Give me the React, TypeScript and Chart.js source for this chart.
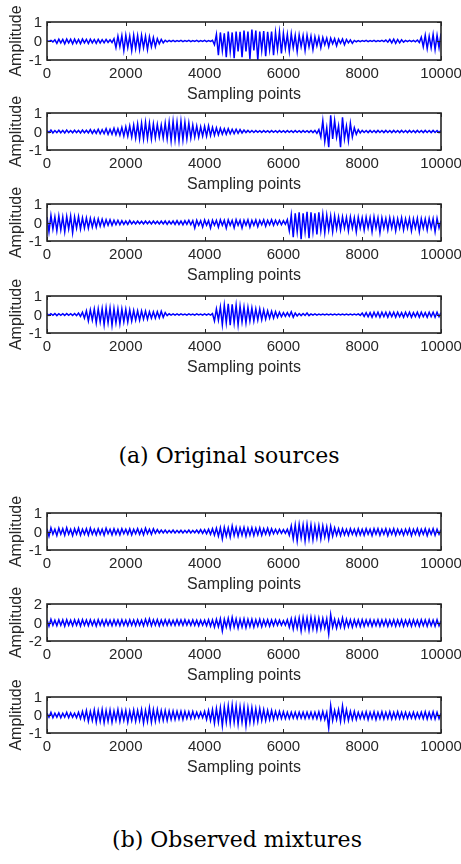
import React, { useEffect, useRef } from "react";
import { Chart, registerables } from "chart.js";

Chart.register(...registerables);

// ---------- text ----------
const X_LABEL = "Sampling points";
const Y_LABEL = "Amplitude";
const CAPTION_A = "(a) Original sources";
const CAPTION_B = "(b) Observed mixtures";
const X_TICKS = [0, 2000, 4000, 6000, 8000, 10000];
const Y_TICKS_1 = [-1, 0, 1];
const Y_TICKS_2 = [-2, 0, 2];

// ---------- data ----------
// positive peaks at samples 0,100,...,10000 ; negative peaks at samples 50,150,...,9950
const s1Up = [
  0.02,0.03,0.06,0.1,0.08,0.1,0.09,0.1,0.08,0.1,
  0.09,0.1,0.08,0.09,0.07,0.08,0.06,0.12,0.25,0.28,
  0.3,0.25,0.3,0.28,0.3,0.25,0.22,0.18,0.12,0.08,
  0.04,0.03,0.03,0.02,0.03,0.02,0.03,0.02,0.03,0.02,
  0.03,0.02,0.04,0.35,0.45,0.4,0.5,0.45,0.5,0.48,
  0.55,0.5,0.6,0.55,0.5,0.52,0.48,0.5,0.45,0.48,
  0.4,0.35,0.38,0.3,0.32,0.28,0.3,0.25,0.22,0.2,
  0.18,0.15,0.15,0.12,0.1,0.1,0.08,0.06,0.03,0.02,
  0.02,0.03,0.02,0.03,0.02,0.03,0.05,0.08,0.1,0.08,
  0.06,0.03,0.03,0.03,0.05,0.2,0.3,0.25,0.35,0.3,
  0.4];
const s1Lo = [
  -0.02,-0.05,-0.12,-0.1,-0.15,-0.1,-0.15,-0.12,-0.14,-0.1,
  -0.13,-0.1,-0.12,-0.1,-0.1,-0.08,-0.08,-0.35,-0.3,-0.5,
  -0.35,-0.5,-0.4,-0.45,-0.35,-0.45,-0.3,-0.3,-0.15,-0.1,
  -0.04,-0.03,-0.03,-0.02,-0.03,-0.02,-0.03,-0.02,-0.03,-0.02,
  -0.03,-0.02,-0.2,-0.75,-0.5,-0.85,-0.55,-0.9,-0.55,-0.85,
  -0.55,-0.95,-0.5,-1.0,-0.5,-0.8,-0.45,-0.75,-0.45,-0.65,
  -0.4,-0.55,-0.35,-0.55,-0.3,-0.5,-0.3,-0.45,-0.25,-0.35,
  -0.2,-0.3,-0.15,-0.25,-0.12,-0.2,-0.1,-0.12,-0.04,-0.03,
  -0.02,-0.03,-0.02,-0.03,-0.02,-0.03,-0.06,-0.1,-0.12,-0.1,
  -0.06,-0.03,-0.03,-0.04,-0.08,-0.3,-0.4,-0.35,-0.45,-0.35];

const s2Up = [
  0.05,0.08,0.05,0.07,0.06,0.08,0.05,0.07,0.06,0.08,
  0.07,0.1,0.08,0.12,0.1,0.15,0.12,0.18,0.15,0.22,
  0.25,0.3,0.35,0.4,0.45,0.5,0.45,0.4,0.38,0.35,
  0.45,0.5,0.55,0.5,0.55,0.5,0.45,0.35,0.3,0.25,
  0.28,0.3,0.22,0.2,0.18,0.15,0.15,0.12,0.12,0.1,
  0.08,0.06,0.05,0.05,0.04,0.05,0.04,0.05,0.04,0.05,
  0.04,0.05,0.04,0.05,0.04,0.05,0.04,0.05,0.06,0.1,
  0.58,0.2,0.87,0.6,0.3,0.77,0.3,0.45,0.2,0.1,
  0.06,0.05,0.06,0.05,0.06,0.05,0.06,0.05,0.06,0.05,
  0.06,0.05,0.06,0.05,0.06,0.05,0.06,0.05,0.06,0.05,
  0.05];
const s2Lo = [
  -0.06,-0.08,-0.06,-0.07,-0.08,-0.06,-0.07,-0.06,-0.08,-0.07,
  -0.08,-0.1,-0.1,-0.12,-0.12,-0.15,-0.15,-0.18,-0.2,-0.25,
  -0.25,-0.3,-0.35,-0.4,-0.4,-0.38,-0.4,-0.35,-0.3,-0.35,
  -0.4,-0.5,-0.45,-0.5,-0.45,-0.4,-0.35,-0.3,-0.3,-0.25,
  -0.25,-0.22,-0.2,-0.18,-0.15,-0.15,-0.12,-0.12,-0.1,-0.08,
  -0.06,-0.05,-0.05,-0.04,-0.05,-0.04,-0.05,-0.04,-0.05,-0.04,
  -0.05,-0.04,-0.05,-0.04,-0.05,-0.04,-0.05,-0.06,-0.1,-0.3,
  -0.55,-0.85,-0.4,-0.3,-0.85,-0.4,-0.5,-0.3,-0.15,-0.08,
  -0.05,-0.06,-0.05,-0.06,-0.05,-0.06,-0.05,-0.06,-0.05,-0.06,
  -0.05,-0.06,-0.05,-0.06,-0.05,-0.06,-0.05,-0.06,-0.05,-0.06];

const s3Up = [
  0.3,0.38,0.3,0.35,0.3,0.32,0.35,0.3,0.32,0.25,
  0.25,0.22,0.2,0.2,0.18,0.15,0.15,0.12,0.12,0.1,
  0.08,0.1,0.07,0.08,0.07,0.08,0.07,0.08,0.07,0.08,
  0.08,0.07,0.08,0.1,0.08,0.1,0.12,0.1,0.12,0.1,
  0.14,0.1,0.12,0.12,0.15,0.12,0.14,0.12,0.15,0.12,
  0.12,0.15,0.12,0.14,0.12,0.15,0.12,0.15,0.12,0.12,
  0.1,0.15,0.4,0.5,0.55,0.5,0.58,0.55,0.5,0.55,
  0.45,0.4,0.35,0.35,0.3,0.3,0.28,0.3,0.25,0.28,
  0.25,0.28,0.25,0.3,0.25,0.25,0.22,0.25,0.22,0.2,
  0.25,0.2,0.22,0.2,0.22,0.2,0.2,0.22,0.2,0.22,
  0.1];
const s3Lo = [
  -0.5,-0.35,-0.45,-0.4,-0.5,-0.35,-0.55,-0.3,-0.35,-0.3,
  -0.3,-0.25,-0.25,-0.2,-0.2,-0.15,-0.15,-0.12,-0.12,-0.1,
  -0.1,-0.08,-0.08,-0.07,-0.08,-0.07,-0.08,-0.07,-0.08,-0.08,
  -0.1,-0.08,-0.1,-0.1,-0.12,-0.1,-0.12,-0.3,-0.15,-0.25,
  -0.15,-0.3,-0.15,-0.25,-0.15,-0.3,-0.15,-0.28,-0.15,-0.3,
  -0.15,-0.25,-0.15,-0.22,-0.12,-0.2,-0.12,-0.15,-0.12,-0.12,
  -0.1,-0.45,-0.8,-0.5,-0.9,-0.5,-0.85,-0.5,-0.65,-0.45,
  -0.55,-0.4,-0.5,-0.35,-0.4,-0.3,-0.45,-0.3,-0.5,-0.3,
  -0.4,-0.3,-0.5,-0.3,-0.55,-0.3,-0.4,-0.3,-0.45,-0.3,
  -0.4,-0.3,-0.45,-0.3,-0.5,-0.3,-0.4,-0.3,-0.5,-0.3];

const s4Up = [
  0.05,0.04,0.05,0.04,0.04,0.05,0.04,0.05,0.08,0.12,
  0.2,0.25,0.3,0.3,0.32,0.35,0.35,0.32,0.3,0.3,
  0.28,0.25,0.22,0.2,0.2,0.18,0.15,0.15,0.15,0.18,
  0.1,0.04,0.03,0.03,0.03,0.02,0.03,0.02,0.03,0.02,
  0.03,0.03,0.05,0.3,0.4,0.5,0.58,0.55,0.5,0.45,
  0.4,0.38,0.35,0.3,0.3,0.25,0.2,0.18,0.15,0.12,
  0.1,0.1,0.15,0.08,0.05,0.05,0.08,0.03,0.03,0.02,
  0.02,0.02,0.02,0.02,0.02,0.02,0.02,0.02,0.02,0.03,
  0.08,0.1,0.1,0.12,0.12,0.12,0.12,0.12,0.12,0.12,
  0.1,0.12,0.12,0.1,0.12,0.12,0.1,0.12,0.12,0.12,
  0.1];
const s4Lo = [
  -0.05,-0.04,-0.06,-0.04,-0.05,-0.04,-0.05,-0.06,-0.1,-0.2,
  -0.35,-0.3,-0.45,-0.4,-0.55,-0.45,-0.58,-0.45,-0.5,-0.4,
  -0.4,-0.35,-0.3,-0.3,-0.25,-0.25,-0.2,-0.2,-0.18,-0.15,
  -0.06,-0.03,-0.03,-0.03,-0.02,-0.03,-0.02,-0.03,-0.02,-0.03,
  -0.03,-0.03,-0.35,-0.3,-0.55,-0.45,-0.58,-0.45,-0.55,-0.4,
  -0.45,-0.35,-0.35,-0.3,-0.28,-0.25,-0.2,-0.2,-0.15,-0.12,
  -0.1,-0.1,-0.15,-0.08,-0.06,-0.05,-0.06,-0.03,-0.03,-0.02,
  -0.02,-0.02,-0.02,-0.02,-0.02,-0.02,-0.02,-0.02,-0.02,-0.05,
  -0.1,-0.12,-0.15,-0.12,-0.15,-0.12,-0.15,-0.12,-0.15,-0.12,
  -0.15,-0.12,-0.15,-0.12,-0.15,-0.12,-0.15,-0.12,-0.15,-0.12];

const m1Up = [
  0.15,0.2,0.12,0.18,0.15,0.2,0.12,0.15,0.18,0.12,
  0.15,0.18,0.12,0.15,0.12,0.18,0.12,0.15,0.12,0.15,
  0.12,0.15,0.12,0.15,0.12,0.18,0.12,0.15,0.1,0.08,
  0.08,0.06,0.08,0.06,0.07,0.06,0.08,0.06,0.08,0.1,
  0.1,0.12,0.15,0.18,0.2,0.22,0.2,0.3,0.22,0.2,
  0.22,0.18,0.2,0.18,0.2,0.15,0.18,0.15,0.12,0.12,
  0.1,0.12,0.3,0.35,0.38,0.35,0.38,0.35,0.3,0.32,
  0.3,0.25,0.28,0.2,0.15,0.15,0.12,0.15,0.12,0.15,
  0.12,0.15,0.12,0.15,0.15,0.12,0.15,0.12,0.15,0.12,
  0.1,0.12,0.15,0.12,0.15,0.12,0.15,0.12,0.15,0.12,
  0.1];
const m1Lo = [
  -0.25,-0.15,-0.22,-0.15,-0.2,-0.15,-0.22,-0.15,-0.2,-0.15,
  -0.2,-0.15,-0.18,-0.15,-0.2,-0.12,-0.18,-0.15,-0.18,-0.12,
  -0.15,-0.18,-0.12,-0.15,-0.18,-0.12,-0.15,-0.1,-0.08,-0.08,
  -0.08,-0.07,-0.08,-0.07,-0.08,-0.07,-0.08,-0.07,-0.08,-0.1,
  -0.12,-0.15,-0.2,-0.25,-0.4,-0.25,-0.3,-0.22,-0.25,-0.2,
  -0.25,-0.2,-0.22,-0.18,-0.2,-0.15,-0.18,-0.12,-0.12,-0.1,
  -0.1,-0.2,-0.4,-0.5,-0.35,-0.5,-0.4,-0.45,-0.35,-0.4,
  -0.3,-0.4,-0.25,-0.2,-0.22,-0.18,-0.2,-0.15,-0.2,-0.18,
  -0.2,-0.15,-0.22,-0.15,-0.2,-0.15,-0.22,-0.15,-0.2,-0.15,
  -0.2,-0.15,-0.22,-0.15,-0.2,-0.15,-0.22,-0.15,-0.2,-0.15];

const m2Up = [
  0.3,0.35,0.25,0.3,0.28,0.3,0.25,0.3,0.28,0.3,
  0.28,0.3,0.25,0.3,0.28,0.3,0.25,0.3,0.28,0.3,
  0.25,0.3,0.28,0.3,0.25,0.35,0.4,0.3,0.32,0.28,
  0.3,0.28,0.25,0.3,0.28,0.3,0.25,0.28,0.25,0.25,
  0.25,0.3,0.28,0.35,0.4,0.35,0.45,0.55,0.4,0.35,
  0.4,0.35,0.35,0.3,0.35,0.3,0.3,0.28,0.3,0.25,
  0.2,0.3,0.4,0.45,0.5,0.55,0.5,0.55,0.5,0.45,
  0.45,0.4,0.85,0.35,0.3,0.5,0.35,0.3,0.3,0.28,
  0.3,0.28,0.3,0.25,0.3,0.28,0.3,0.25,0.3,0.28,
  0.3,0.25,0.28,0.3,0.25,0.3,0.28,0.3,0.25,0.3,
  0.2];
const m2Lo = [
  -0.4,-0.3,-0.35,-0.3,-0.4,-0.3,-0.35,-0.3,-0.38,-0.3,
  -0.35,-0.3,-0.38,-0.3,-0.35,-0.3,-0.35,-0.3,-0.35,-0.3,
  -0.35,-0.3,-0.35,-0.3,-0.35,-0.3,-0.35,-0.3,-0.35,-0.3,
  -0.3,-0.28,-0.3,-0.28,-0.3,-0.28,-0.3,-0.3,-0.35,-0.3,
  -0.35,-0.4,-0.5,-0.45,-0.9,-0.5,-0.6,-0.5,-0.6,-0.5,
  -0.55,-0.45,-0.5,-0.4,-0.45,-0.35,-0.4,-0.35,-0.3,-0.3,
  -0.3,-0.5,-0.7,-0.6,-0.9,-0.7,-0.85,-0.7,-0.8,-0.7,
  -0.6,-1.25,-0.5,-0.6,-0.5,-0.55,-0.45,-0.5,-0.4,-0.45,
  -0.4,-0.35,-0.4,-0.35,-0.4,-0.35,-0.4,-0.35,-0.4,-0.35,
  -0.4,-0.35,-0.4,-0.35,-0.4,-0.35,-0.4,-0.35,-0.4,-0.35];

const m3Up = [
  0.1,0.15,0.1,0.12,0.1,0.15,0.12,0.1,0.15,0.2,
  0.25,0.2,0.28,0.25,0.3,0.25,0.28,0.22,0.3,0.25,
  0.25,0.22,0.28,0.25,0.3,0.25,0.4,0.3,0.3,0.25,
  0.25,0.22,0.22,0.2,0.2,0.2,0.18,0.2,0.15,0.15,
  0.2,0.25,0.3,0.35,0.4,0.45,0.5,0.55,0.5,0.45,
  0.45,0.4,0.4,0.35,0.35,0.3,0.25,0.25,0.2,0.2,
  0.18,0.15,0.15,0.15,0.15,0.15,0.15,0.15,0.15,0.18,
  0.2,0.15,0.52,0.25,0.3,0.5,0.3,0.2,0.2,0.15,
  0.15,0.18,0.15,0.18,0.15,0.18,0.15,0.18,0.15,0.18,
  0.15,0.15,0.12,0.15,0.12,0.15,0.18,0.15,0.18,0.15,
  0.1];
const m3Lo = [
  -0.12,-0.15,-0.12,-0.15,-0.12,-0.15,-0.12,-0.15,-0.2,-0.25,
  -0.35,-0.3,-0.4,-0.35,-0.42,-0.35,-0.4,-0.3,-0.35,-0.3,
  -0.4,-0.3,-0.35,-0.3,-0.45,-0.35,-0.4,-0.35,-0.3,-0.3,
  -0.3,-0.25,-0.25,-0.22,-0.25,-0.2,-0.2,-0.18,-0.15,-0.15,
  -0.25,-0.3,-0.45,-0.4,-0.6,-0.4,-0.45,-0.4,-0.5,-0.4,
  -0.6,-0.4,-0.4,-0.35,-0.3,-0.3,-0.25,-0.25,-0.2,-0.2,
  -0.2,-0.2,-0.18,-0.2,-0.18,-0.2,-0.18,-0.2,-0.2,-0.25,
  -0.25,-0.72,-0.3,-0.25,-0.35,-0.3,-0.3,-0.25,-0.25,-0.2,
  -0.2,-0.25,-0.2,-0.25,-0.2,-0.22,-0.2,-0.22,-0.2,-0.2,
  -0.2,-0.2,-0.18,-0.2,-0.18,-0.2,-0.22,-0.2,-0.22,-0.2];

const PEAK_STEP = 100; // samples between successive positive peaks

const FONT = "'Liberation Sans', Arial, Helvetica, sans-serif";
const INK = "#262626";
const PAD_TOP = 26;
const X_AXIS_H = 48;
const Y_AXIS_W = 47;

const fmtTick = (v: number) => (v < 0 ? "-" + String(-v) : String(v));

const boxPlugin = {
  id: "matlabBox",
  afterDraw(chart: any) {
    const { ctx, chartArea: a, scales } = chart;
    ctx.save();
    ctx.strokeStyle = INK;
    ctx.lineWidth = 1;
    const xs = scales.x, ys = scales.y;
    xs.ticks.forEach((t: any) => {
      const px = Math.round(xs.getPixelForValue(t.value)) + 0.5;
      ctx.beginPath();
      ctx.moveTo(px, a.bottom); ctx.lineTo(px, a.bottom - 4);
      ctx.moveTo(px, a.top); ctx.lineTo(px, a.top + 4);
      ctx.stroke();
    });
    // y tick marks and labels
    ctx.fillStyle = INK;
    ctx.font = "15px " + FONT;
    ctx.textAlign = "right";
    ctx.textBaseline = "middle";
    ys.ticks.forEach((t: any) => {
      const yy = ys.getPixelForValue(t.value);
      const py = Math.round(yy) + 0.5;
      ctx.beginPath();
      ctx.moveTo(a.left, py); ctx.lineTo(a.left + 4, py);
      ctx.moveTo(a.right, py); ctx.lineTo(a.right - 4, py);
      ctx.stroke();
      ctx.fillText(fmtTick(t.value), a.left - 5, yy + 1);
    });
    ctx.lineWidth = 1.6;
    ctx.strokeRect(a.left, a.top, a.right - a.left, a.bottom - a.top);
    ctx.restore();
  },
};

type PanelProps = { boxTop: number; boxBottom: number; up: number[]; lo: number[]; yTicks: number[] };

function Panel({ boxTop, boxBottom, up, lo, yTicks }: PanelProps) {
  const ref = useRef<HTMLCanvasElement>(null);
  const h = PAD_TOP + (boxBottom - boxTop) + X_AXIS_H;
  useEffect(() => {
    const wave: { x: number; y: number }[] = [];
    for (let i = 0; i < up.length; i++) {
      wave.push({ x: i * PEAK_STEP, y: up[i] });
      if (i < lo.length) wave.push({ x: i * PEAK_STEP + PEAK_STEP / 2, y: lo[i] });
    }
    const chart = new Chart(ref.current as HTMLCanvasElement, {
      type: "line",
      data: {
        datasets: [
          {
            data: wave,
            borderColor: "#0000ff",
            borderWidth: 1.5,
            pointRadius: 0,
            tension: 0,
            fill: false,
          },
        ],
      },
      options: {
        animation: false,
        responsive: false,
        devicePixelRatio: 1,
        events: [],
        layout: { padding: { top: PAD_TOP, right: 20, left: 0, bottom: 0 } },
        plugins: { legend: { display: false }, tooltip: { enabled: false }, title: { display: false } },
        scales: {
          x: {
            type: "linear",
            min: X_TICKS[0],
            max: X_TICKS[X_TICKS.length - 1],
            afterBuildTicks: (s: any) => { s.ticks = X_TICKS.map((v) => ({ value: v })); },
            ticks: { callback: (v: any) => String(v), font: { family: FONT, size: 15 }, color: INK, padding: 5, maxRotation: 0, autoSkip: false },
            grid: { display: false, drawTicks: false },
            border: { display: false },
            title: { display: true, text: X_LABEL, font: { family: FONT, size: 16 }, color: INK, padding: { top: 0, bottom: 4 } },
            afterFit: (s: any) => { s.height = X_AXIS_H; s.paddingLeft = 0; s.paddingRight = 0; },
          },
          y: {
            type: "linear",
            min: yTicks[0],
            max: yTicks[yTicks.length - 1],
            afterBuildTicks: (s: any) => { s.ticks = yTicks.map((v) => ({ value: v })); },
            ticks: { display: false },
            grid: { display: false, drawTicks: false },
            border: { display: false },
            title: { display: true, text: Y_LABEL, font: { family: FONT, size: 16 }, color: INK, padding: { top: 7, bottom: 0 } },
            afterFit: (s: any) => { s.width = Y_AXIS_W; s.paddingTop = 0; s.paddingBottom = 0; },
          },
        },
      } as any,
      plugins: [boxPlugin],
    });
    return () => chart.destroy();
  }, []);
  return (
    <canvas
      ref={ref}
      width={461}
      height={h}
      style={{ position: "absolute", left: 0, top: boxTop - PAD_TOP, width: 461, height: h }}
    />
  );
}

const captionStyle = (cx: number, top: number): React.CSSProperties => ({
  position: "absolute",
  left: cx,
  top,
  transform: "translateX(-50%)",
  whiteSpace: "nowrap",
  fontFamily: "'DejaVu Serif', 'Liberation Serif', serif",
  fontSize: 22,
  lineHeight: "26px",
  color: "#000",
});

export default function App() {
  return (
    <div style={{ position: "absolute", left: 0, top: 0, width: 461, height: 864, background: "#fff", overflow: "hidden" }}>
      <Panel boxTop={22} boxBottom={60} up={s1Up} lo={s1Lo} yTicks={Y_TICKS_1} />
      <Panel boxTop={113} boxBottom={150} up={s2Up} lo={s2Lo} yTicks={Y_TICKS_1} />
      <Panel boxTop={204} boxBottom={241} up={s3Up} lo={s3Lo} yTicks={Y_TICKS_1} />
      <Panel boxTop={296} boxBottom={333} up={s4Up} lo={s4Lo} yTicks={Y_TICKS_1} />
      <div style={captionStyle(229, 443)}>{CAPTION_A}</div>
      <Panel boxTop={513} boxBottom={550} up={m1Up} lo={m1Lo} yTicks={Y_TICKS_1} />
      <Panel boxTop={604} boxBottom={641} up={m2Up} lo={m2Lo} yTicks={Y_TICKS_2} />
      <Panel boxTop={697} boxBottom={733} up={m3Up} lo={m3Lo} yTicks={Y_TICKS_1} />
      <div style={captionStyle(237, 827)}>{CAPTION_B}</div>
    </div>
  );
}
